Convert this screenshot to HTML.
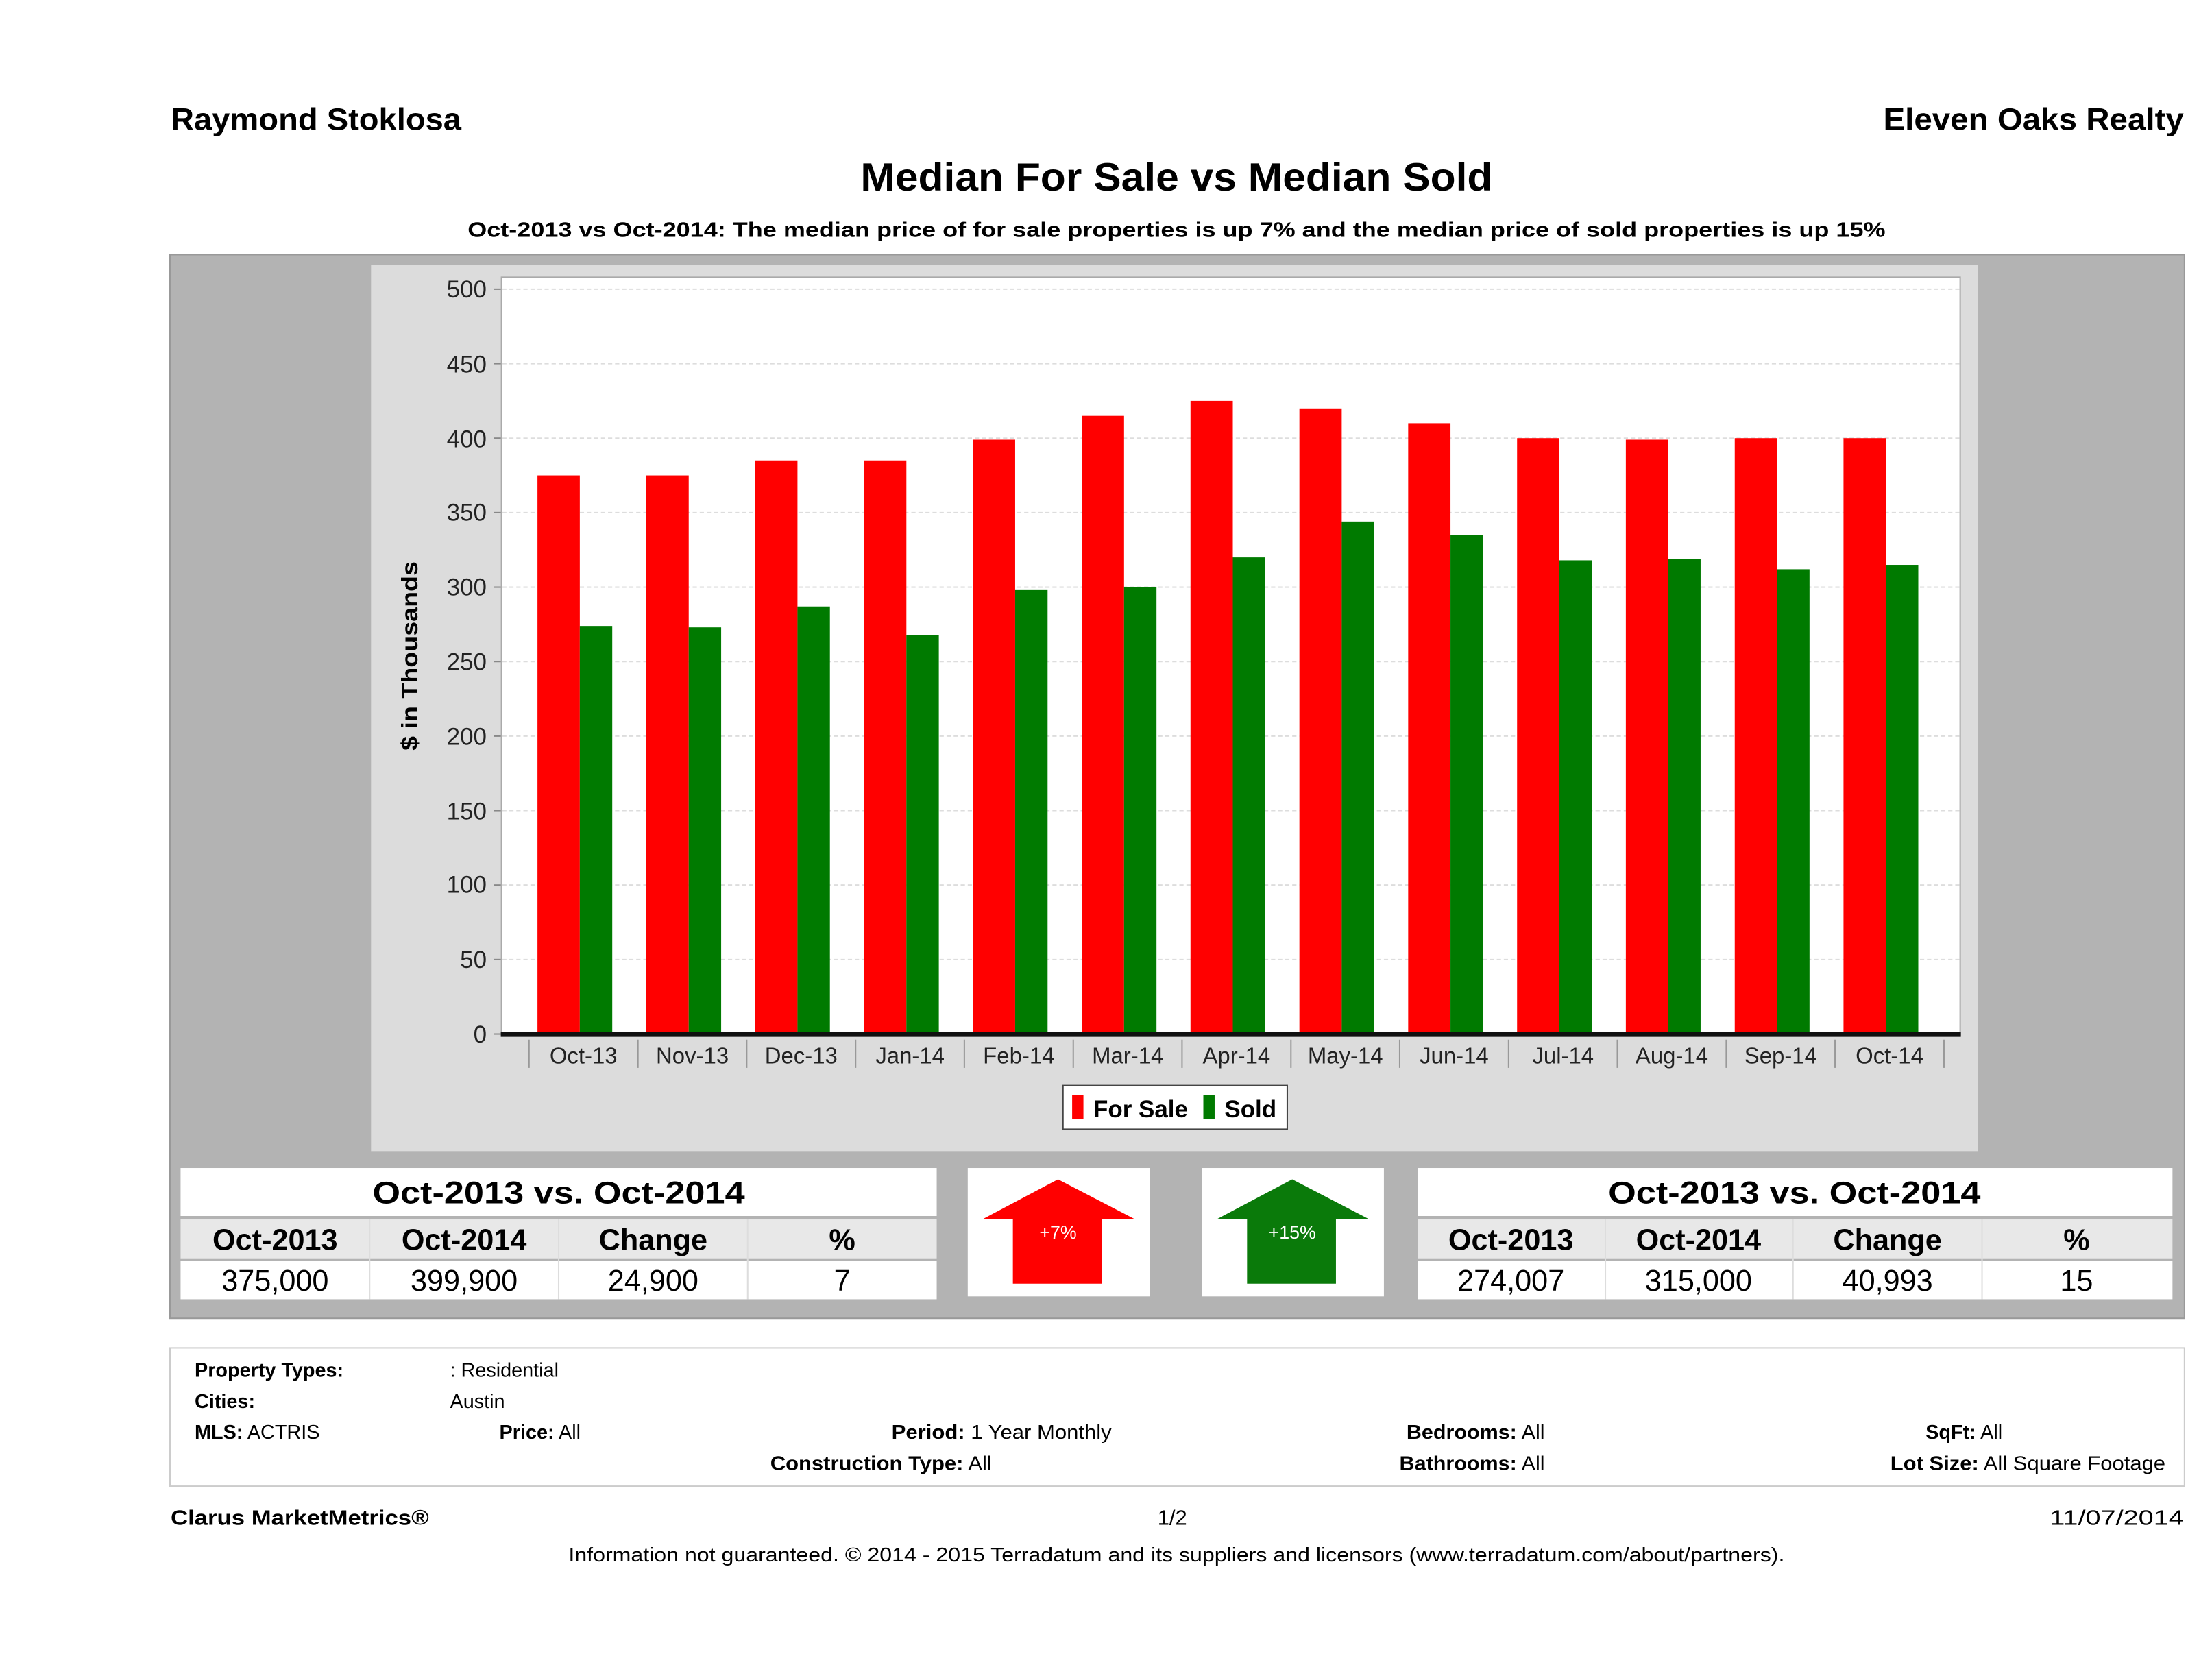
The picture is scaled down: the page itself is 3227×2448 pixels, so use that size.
<!DOCTYPE html>
<html><head><meta charset="utf-8"><style>html,body{margin:0;padding:0;background:#fff}svg{display:block}</style></head>
<body>
<svg width="3227" height="2448" viewBox="0 0 1568 1189.5" xmlns="http://www.w3.org/2000/svg" font-family="Liberation Sans, DejaVu Sans, sans-serif">
<rect width="1568" height="1190" fill="#fff"/>
<text x="121" y="92" font-size="22" font-weight="bold" textLength="206" lengthAdjust="spacingAndGlyphs">Raymond Stoklosa</text>
<text x="1335" y="92" font-size="22" font-weight="bold" textLength="213" lengthAdjust="spacingAndGlyphs">Eleven Oaks Realty</text>
<text x="610" y="135" font-size="28" font-weight="bold" textLength="448" lengthAdjust="spacingAndGlyphs">Median For Sale vs Median Sold</text>
<text x="834" y="168" font-size="15" font-weight="bold" text-anchor="middle" textLength="1005" lengthAdjust="spacingAndGlyphs">Oct-2013 vs Oct-2014: The median price of for sale properties is up 7% and the median price of sold properties is up 15%</text>
<rect x="120.5" y="180.5" width="1428" height="754" fill="#b3b3b3" stroke="#999"/>
<rect x="263" y="188" width="1139" height="628" fill="#dcdcdc"/>
<rect x="355.5" y="196.5" width="1034" height="537" fill="#fff" stroke="#aaa"/>
<g stroke="#ddd" stroke-dasharray="3,2">
<line x1="356" x2="1389" y1="205" y2="205"/><line x1="356" x2="1389" y1="257.8" y2="257.8"/><line x1="356" x2="1389" y1="310.6" y2="310.6"/><line x1="356" x2="1389" y1="363.4" y2="363.4"/><line x1="356" x2="1389" y1="416.2" y2="416.2"/><line x1="356" x2="1389" y1="469" y2="469"/><line x1="356" x2="1389" y1="521.8" y2="521.8"/><line x1="356" x2="1389" y1="574.6" y2="574.6"/><line x1="356" x2="1389" y1="627.4" y2="627.4"/><line x1="356" x2="1389" y1="680.2" y2="680.2"/>
</g>
<g font-size="17" text-anchor="end" fill="#222">
<text x="345" y="211">500</text><text x="345" y="264">450</text><text x="345" y="317">400</text><text x="345" y="369">350</text><text x="345" y="422">300</text><text x="345" y="475">250</text><text x="345" y="528">200</text><text x="345" y="581">150</text><text x="345" y="633">100</text><text x="345" y="686">50</text><text x="345" y="739">0</text>
</g>
<g stroke="#888"><line x1="350" x2="355" y1="205" y2="205"/><line x1="350" x2="355" y1="257.8" y2="257.8"/><line x1="350" x2="355" y1="310.6" y2="310.6"/><line x1="350" x2="355" y1="363.4" y2="363.4"/><line x1="350" x2="355" y1="416.2" y2="416.2"/><line x1="350" x2="355" y1="469" y2="469"/><line x1="350" x2="355" y1="521.8" y2="521.8"/><line x1="350" x2="355" y1="574.6" y2="574.6"/><line x1="350" x2="355" y1="627.4" y2="627.4"/><line x1="350" x2="355" y1="680.2" y2="680.2"/><line x1="350" x2="355" y1="733" y2="733"/></g>
<text transform="translate(296,465) rotate(-90)" font-size="16" font-weight="bold" text-anchor="middle" textLength="134" lengthAdjust="spacingAndGlyphs">$ in Thousands</text>
<g fill="#ff0000">
<rect x="381" y="337" width="30" height="396"/><rect x="458.2" y="337" width="30" height="396"/><rect x="535.3" y="326.4" width="30" height="406.6"/><rect x="612.5" y="326.4" width="30" height="406.6"/><rect x="689.6" y="311.7" width="30" height="421.3"/><rect x="766.8" y="294.8" width="30" height="438.2"/><rect x="843.9" y="284.2" width="30" height="448.8"/><rect x="921.1" y="289.5" width="30" height="443.5"/><rect x="998.2" y="300" width="30" height="433"/><rect x="1075.4" y="310.6" width="30" height="422.4"/><rect x="1152.5" y="311.7" width="30" height="421.3"/><rect x="1229.7" y="310.6" width="30" height="422.4"/><rect x="1306.8" y="310.6" width="30" height="422.4"/>
</g>
<g fill="#007a00">
<rect x="411" y="443.7" width="23" height="289.3"/><rect x="488.2" y="444.7" width="23" height="288.3"/><rect x="565.3" y="429.9" width="23" height="303.1"/><rect x="642.5" y="450" width="23" height="283"/><rect x="719.6" y="418.3" width="23" height="314.7"/><rect x="796.8" y="416.2" width="23" height="316.8"/><rect x="873.9" y="395.1" width="23" height="337.9"/><rect x="951.1" y="369.7" width="23" height="363.3"/><rect x="1028.2" y="379.2" width="23" height="353.8"/><rect x="1105.4" y="397.2" width="23" height="335.8"/><rect x="1182.5" y="396.1" width="23" height="336.9"/><rect x="1259.7" y="403.5" width="23" height="329.5"/><rect x="1336.8" y="400.4" width="23" height="332.6"/>
</g>
<rect x="355" y="731.5" width="1035" height="3.5" fill="#111"/>
<g stroke="#999"><line x1="375" x2="375" y1="737" y2="757"/><line x1="452.2" x2="452.2" y1="737" y2="757"/><line x1="529.3" x2="529.3" y1="737" y2="757"/><line x1="606.5" x2="606.5" y1="737" y2="757"/><line x1="683.6" x2="683.6" y1="737" y2="757"/><line x1="760.8" x2="760.8" y1="737" y2="757"/><line x1="837.9" x2="837.9" y1="737" y2="757"/><line x1="915.1" x2="915.1" y1="737" y2="757"/><line x1="992.2" x2="992.2" y1="737" y2="757"/><line x1="1069.4" x2="1069.4" y1="737" y2="757"/><line x1="1146.5" x2="1146.5" y1="737" y2="757"/><line x1="1223.7" x2="1223.7" y1="737" y2="757"/><line x1="1300.8" x2="1300.8" y1="737" y2="757"/><line x1="1378" x2="1378" y1="737" y2="757"/></g>
<g font-size="16" text-anchor="middle" fill="#222">
<text x="413.6" y="754">Oct-13</text><text x="490.8" y="754">Nov-13</text><text x="567.9" y="754">Dec-13</text><text x="645.1" y="754">Jan-14</text><text x="722.2" y="754">Feb-14</text><text x="799.4" y="754">Mar-14</text><text x="876.5" y="754">Apr-14</text><text x="953.7" y="754">May-14</text><text x="1030.8" y="754">Jun-14</text><text x="1108" y="754">Jul-14</text><text x="1185.1" y="754">Aug-14</text><text x="1262.3" y="754">Sep-14</text><text x="1339.4" y="754">Oct-14</text>
</g>
<rect x="753.5" y="769.5" width="159" height="31" fill="#fff" stroke="#444"/>
<rect x="760" y="776" width="8" height="17" fill="#ff0000"/>
<text x="775" y="792" font-size="17" font-weight="bold">For Sale</text>
<rect x="853" y="776" width="8" height="17" fill="#007a00"/>
<text x="868" y="792" font-size="17" font-weight="bold">Sold</text>
<g font-size="21">
<rect x="128" y="828" width="536" height="34" fill="#fff"/>
<rect x="128" y="864" width="536" height="28" fill="#e8e8e8"/>
<rect x="128" y="894" width="536" height="27" fill="#fff"/>
<text x="396" y="853" text-anchor="middle" font-weight="bold" font-size="22" textLength="264" lengthAdjust="spacingAndGlyphs">Oct-2013 vs. Oct-2014</text>
<g text-anchor="middle" font-weight="bold"><text x="195" y="886">Oct-2013</text><text x="329" y="886">Oct-2014</text><text x="463" y="886">Change</text><text x="597" y="886">%</text></g>
<g text-anchor="middle"><text x="195" y="915">375,000</text><text x="329" y="915">399,900</text><text x="463" y="915">24,900</text><text x="597" y="915">7</text></g>
<rect x="1005" y="828" width="535" height="34" fill="#fff"/>
<rect x="1005" y="864" width="535" height="28" fill="#e8e8e8"/>
<rect x="1005" y="894" width="535" height="27" fill="#fff"/>
<text x="1272" y="853" text-anchor="middle" font-weight="bold" font-size="22" textLength="264" lengthAdjust="spacingAndGlyphs">Oct-2013 vs. Oct-2014</text>
<g text-anchor="middle" font-weight="bold"><text x="1071" y="886">Oct-2013</text><text x="1204" y="886">Oct-2014</text><text x="1338" y="886">Change</text><text x="1472" y="886">%</text></g>
<g text-anchor="middle"><text x="1071" y="915">274,007</text><text x="1204" y="915">315,000</text><text x="1338" y="915">40,993</text><text x="1472" y="915">15</text></g>
</g>
<g stroke="#ddd"><line x1="262" x2="262" y1="864" y2="921"/><line x1="396" x2="396" y1="864" y2="921"/><line x1="530" x2="530" y1="864" y2="921"/><line x1="1138" x2="1138" y1="864" y2="921"/><line x1="1271" x2="1271" y1="864" y2="921"/><line x1="1405" x2="1405" y1="864" y2="921"/></g>
<rect x="686" y="828" width="129" height="91" fill="#fff"/>
<polygon points="750,836 804,864 781,864 781,910 718,910 718,864 697,864" fill="#f00"/>
<text x="750" y="878" font-size="13" fill="#fff" text-anchor="middle">+7%</text>
<rect x="852" y="828" width="129" height="91" fill="#fff"/>
<polygon points="916,836 970,864 947,864 947,910 884,910 884,864 863,864" fill="#0a7a0a"/>
<text x="916" y="878" font-size="13" fill="#fff" text-anchor="middle">+15%</text>
<rect x="120.5" y="955.5" width="1428" height="98" fill="#fff" stroke="#ccc"/>
<g font-size="14">
<text x="138" y="976" font-weight="bold">Property Types:</text><text x="319" y="976">: Residential</text>
<text x="138" y="998" font-weight="bold">Cities:</text><text x="319" y="998">Austin</text>
<text x="138" y="1020"><tspan font-weight="bold">MLS:</tspan>   ACTRIS</text>
<text x="354" y="1020"><tspan font-weight="bold">Price:</tspan> All</text>
<text x="632" y="1020" textLength="156" lengthAdjust="spacingAndGlyphs"><tspan font-weight="bold">Period:</tspan> 1 Year Monthly</text>
<text x="997" y="1020" textLength="98" lengthAdjust="spacingAndGlyphs"><tspan font-weight="bold">Bedrooms:</tspan> All</text>
<text x="1365" y="1020"><tspan font-weight="bold">SqFt:</tspan>  All</text>
<text x="546" y="1042" textLength="157" lengthAdjust="spacingAndGlyphs"><tspan font-weight="bold">Construction Type:</tspan> All</text>
<text x="992" y="1042" textLength="103" lengthAdjust="spacingAndGlyphs"><tspan font-weight="bold">Bathrooms:</tspan> All</text>
<text x="1340" y="1042" textLength="195" lengthAdjust="spacingAndGlyphs"><tspan font-weight="bold">Lot Size:</tspan>  All Square Footage</text>
</g>
<text x="121" y="1081" font-size="15" font-weight="bold" textLength="183" lengthAdjust="spacingAndGlyphs">Clarus MarketMetrics®</text>
<text x="831" y="1081" font-size="15" text-anchor="middle">1/2</text>
<text x="1453" y="1081" font-size="15" textLength="95" lengthAdjust="spacingAndGlyphs">11/07/2014</text>
<text x="834" y="1107" font-size="14" text-anchor="middle" textLength="862" lengthAdjust="spacingAndGlyphs">Information not guaranteed. © 2014 - 2015 Terradatum and its suppliers and licensors (www.terradatum.com/about/partners).</text>
</svg>
</body></html>
